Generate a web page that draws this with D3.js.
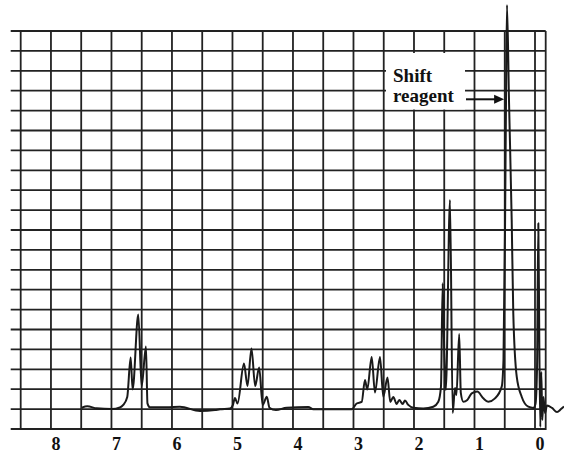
<!DOCTYPE html>
<html>
<head>
<meta charset="utf-8">
<script src="https://cdn.jsdelivr.net/npm/d3@7"></script>
<style>
  body { margin: 0; background: #fff; }
  svg { display: block; }
</style>
</head>
<body>
<div id="chart"></div>
<script>
// chemical shift (ppm) of each trace point
const shiftPpm = [
  7.49, 7.40, 7.245, 6.997, 6.86, 6.805, 6.739, 6.683, 6.65, 6.557, 6.501, 6.43, 6.405, 6.364,
  6.088, 5.868, 5.537, 5.29, 5.207, 5.041, 4.992, 4.959, 4.917, 4.81, 4.752, 4.686, 4.625,
  4.559, 4.501, 4.433, 4.388, 4.281, 4.104, 3.747, 3.664, 3.03, 2.947, 2.864, 2.81, 2.772,
  2.699, 2.645, 2.562, 2.507, 2.438, 2.392, 2.342, 2.286, 2.243, 2.187, 2.149, 2.094, 2.012,
  1.846, 1.681, 1.598, 1.554, 1.526, 1.499, 1.474, 1.405, 1.36, 1.322, 1.298, 1.253, 1.226,
  1.185, 1.119, 1.046, 0.954, 0.855, 0.772, 0.661, 0.55, 0.521, 0.496, 0.479, 0.463, 0.43,
  0.385, 0.359, 0.302, 0.22, 0.111, 0.028, -0.008, -0.033, -0.055, -0.071, -0.088, -0.104,
  -0.121, -0.14, -0.165, -0.198, -0.281, -0.364, -0.43, -0.479
];
// signal height in grid rows above the baseline
const intensity = [
  0.07, 0.14, 0.04, 0.0, 0.08, 0.21, 0.61, 2.59, 0.99, 4.76, 1.14, 3.14, 0.29, 0.09,
  0.09, 0.12, -0.1, -0.05, -0.01, 0.03, 0.21, 0.56, 0.28, 2.29, 1.16, 3.05, 1.16,
  2.09, 0.21, 0.62, 0.07, -0.05, 0.07, 0.10, -0.01, -0.01, 0.28, 0.36, 1.46, 0.98,
  2.62, 0.83, 2.62, 0.62, 1.59, 0.36, 0.61, 0.26, 0.46, 0.26, 0.43, 0.21, 0.07,
  0.03, 0.12, 0.37, 1.13, 6.32, 2.82, 0.96, 10.51, -0.2, 1.06, 0.71, 3.77, 0.81,
  0.37, 0.46, 0.79, 0.88, 0.54, 0.37, 0.54, 1.13, 2.47, 8.85, 15.53, 20.31, 15.53,
  9.5, 4.83, 1.63, 0.62, 0.12, 0.06, 0.26, 1.96, 9.34, 3.47, -0.9, 1.86,
  -0.55, 0.61, -0.2, 0.18, 0.06, -0.15, 0.0, 0.13
];
const tickLabels = [8, 7, 6, 5, 4, 3, 2, 1, 0];
const annotationLines = ['Shift', 'reagent'];

const width = 564;
const height = 454;
const serif = '"Liberation Serif", "Times New Roman", serif';

const svg = d3.select('#chart').append('svg')
  .attr('width', width)
  .attr('height', height);

const x = d3.scaleLinear().domain([8.5, 0]).range([20.7, 535]);
const y = d3.scaleLinear().domain([0, 19]).range([409.1, 31]);
const borderX = 545.7; // right frame of the chart paper

// grid paper
const grid = svg.append('g').attr('stroke', '#222').attr('stroke-width', 1.8);
grid.selectAll('.hline')
  .data(d3.range(-1, 20))
  .enter()
  .append('line')
  .attr('class', 'hline')
  .attr('x1', 10.7)
  .attr('x2', borderX)
  .attr('y1', d => y(d))
  .attr('y2', d => y(d));
grid.selectAll('.vline')
  .data(d3.range(0, 8.5001, 0.5))
  .enter()
  .append('line')
  .attr('class', 'vline')
  .attr('x1', d => x(d))
  .attr('x2', d => x(d))
  .attr('y1', y(19))
  .attr('y2', y(-1) + 1);
grid.append('line')
  .attr('x1', borderX).attr('x2', borderX)
  .attr('y1', y(19)).attr('y2', y(-1) + 1);

// bottom tick labels
svg.append('g')
  .attr('transform', `translate(4.5,${y(-1)})`)
  .call(d3.axisBottom(x).tickValues(tickLabels).tickSize(0).tickPadding(8).tickFormat(d3.format('d')))
  .call(g => g.select('.domain').remove())
  .selectAll('text')
  .attr('font-family', serif)
  .attr('font-weight', 'bold')
  .attr('font-size', 18)
  .attr('fill', '#111');

// spectrum trace
const points = shiftPpm.map((p, i) => [p, intensity[i]]);
const line = d3.line()
  .x(d => x(d[0]))
  .y(d => y(d[1]))
  .curve(d3.curveMonotoneX);
svg.append('path')
  .attr('d', line(points))
  .attr('fill', 'none')
  .attr('stroke', '#1a1a1a')
  .attr('stroke-width', 2)
  .attr('stroke-linejoin', 'round');

// "Shift reagent" label with its arrow
svg.append('rect')
  .attr('x', 386).attr('y', 53)
  .attr('width', 79).attr('height', 56.5)
  .attr('fill', '#fff');
svg.append('g')
  .selectAll('text')
  .data(annotationLines)
  .enter()
  .append('text')
  .attr('x', 393)
  .attr('y', (d, i) => 82 + i * 19.5)
  .attr('font-family', serif)
  .attr('font-weight', 'bold')
  .attr('font-size', 19)
  .attr('fill', '#111')
  .text(d => d);
const arrowY = 99.3;
const tipX = x(0.51);
svg.append('line')
  .attr('x1', 466).attr('x2', tipX - 8)
  .attr('y1', arrowY).attr('y2', arrowY)
  .attr('stroke', '#111')
  .attr('stroke-width', 2);
svg.append('path')
  .attr('d', `M${tipX},${arrowY} L${tipX - 10},${arrowY - 4.5} L${tipX - 10},${arrowY + 4.5} Z`)
  .attr('fill', '#111');
</script>
</body>
</html>
